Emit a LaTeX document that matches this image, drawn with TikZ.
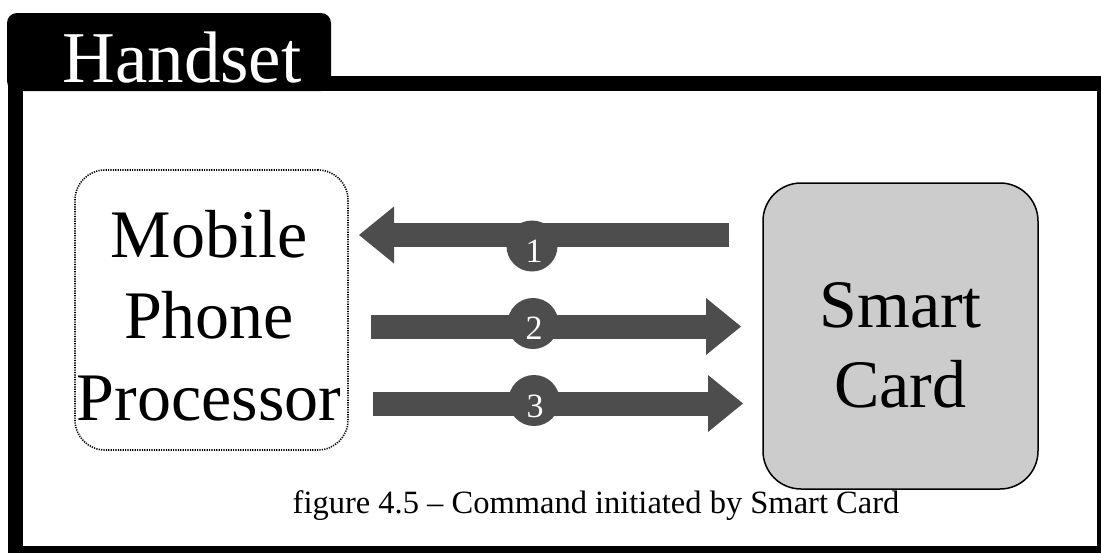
\documentclass[tikz,border=0pt]{standalone}
\usepackage{fontspec}
\setmainfont{Liberation Serif}
\usetikzlibrary{arrows.meta}
\definecolor{flowgray}{RGB}{77,77,77}
\definecolor{cardgray}{RGB}{204,204,204}
\begin{document}
\begin{tikzpicture}[x=1pt,y=-1pt,
  bigtext/.style={anchor=base,font=\fontsize{68}{80}\selectfont},
  numtext/.style={anchor=base,text=white,font=\fontsize{34}{38}\selectfont},
  flowarrow/.style={draw=flowgray,line width=24pt,
    -{Triangle[length=35pt 0 0,width=57pt 0 0,line width=0pt 0 0]}},
  badge/.style={circle,fill=flowgray,minimum size=51pt,inner sep=0pt}]
\useasboundingbox (0,0) rectangle (1101,552);
\clip (0,0) rectangle (1101,552);

% tab on top of the frame
\fill[black,rounded corners=10pt] (7,91) -- (7,13) -- (331,13) -- (331,91) -- cycle;
% thick outer frame
\draw[line width=15pt] (15.5,83.5) rectangle (1104.5,553.5);
\node[anchor=base,text=white,font=\fontsize{73}{80}\selectfont] (tabtitle) at (182,82) {Handset};

% mobile phone processor (dotted box)
\node[draw,dash pattern=on 1.2pt off 1.2pt,line width=1.6pt,rounded corners=30pt,
      minimum width=273pt,minimum height=280pt,inner sep=0pt] (mpp) at (211.5,310) {};
\node[bigtext] (mppa) at (209,257) {Mobile};
\node[bigtext] (mppb) at (209,338) {Phone};
\node[bigtext] (mppc) at (209,420) {Processor};

% smart card
\node[draw,fill=cardgray,line width=1.5pt,rounded corners=38pt,
      minimum width=275pt,minimum height=306pt,inner sep=0pt] (sc) at (900.5,336) {};
\node[bigtext] (sca) at (900.5,327) {Smart};
\node[bigtext] (scb) at (900.5,407) {Card};

% message arrows
\coordinate (a1s) at (729,235);
\coordinate (a1e) at (359,235);
\coordinate (a2s) at (371,326.5);
\coordinate (a2e) at (741,326.5);
\coordinate (a3s) at (373,403.5);
\coordinate (a3e) at (743,403.5);
\draw[flowarrow] (a1s) -- (a1e);
\draw[flowarrow] (a2s) -- (a2e);
\draw[flowarrow] (a3s) -- (a3e);

% numbered badges
\node[badge] (c1) at (532,246) {};
\node[badge] (c2) at (533,323.5) {};
\node[badge] (c3) at (534,400.5) {};
\node[numtext] (n1) at (534,262) {1};
\node[numtext] (n2) at (534,339) {2};
\node[numtext] (n3) at (535,417) {3};

% caption
\node[anchor=base,font=\fontsize{32.5}{36}\selectfont] (caption) at (596,513)
  {figure 4.5 – Command initiated by Smart Card};
\end{tikzpicture}
\end{document}
